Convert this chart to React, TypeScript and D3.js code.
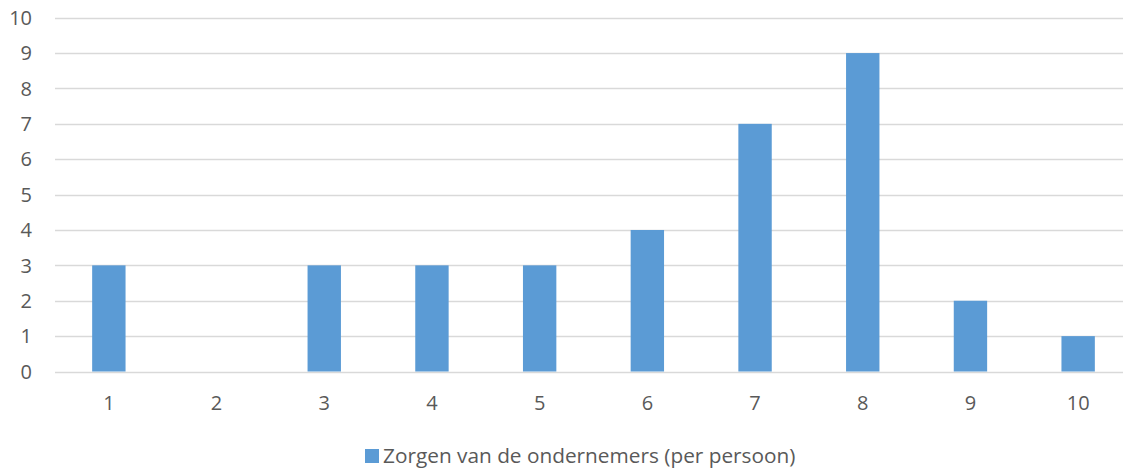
import { useEffect, useRef } from "react";
import * as d3 from "d3";

const categories = ["1", "2", "3", "4", "5", "6", "7", "8", "9", "10"];
const values = [3, 0, 3, 3, 3, 4, 7, 9, 2, 1];
const yTicks = [0, 1, 2, 3, 4, 5, 6, 7, 8, 9, 10];
const seriesName = "Zorgen van de ondernemers (per persoon)";

const W = 1123;
const H = 469;
const FONT = "'Open Sans', sans-serif";

export default function App() {
  const svgRef = useRef<SVGSVGElement>(null);

  useEffect(() => {
    if (!svgRef.current) return;
    const svg = d3.select(svgRef.current);
    svg.selectAll("*").remove();

    const x = d3.scaleBand().domain(categories).range([55, 1132]).paddingInner(0.69).paddingOuter(0.345);
    const y = d3.scaleLinear().domain([0, 10]).range([371.5, 17.7]);

    // gridlines
    svg.append("g")
      .selectAll("line")
      .data(yTicks)
      .join("line")
      .attr("x1", 55).attr("x2", W)
      .attr("y1", d => Math.round(y(d)) + 0.5).attr("y2", d => Math.round(y(d)) + 0.5)
      .attr("stroke", "#d9d9d9")
      .attr("stroke-width", 1.5);

    // bars
    svg.append("g")
      .selectAll("rect")
      .data(values)
      .join("rect")
      .attr("x", (_, i) => x(categories[i])!)
      .attr("width", x.bandwidth())
      .attr("y", d => y(d))
      .attr("height", d => y(0) - y(d))
      .attr("fill", "#5b9bd5");

    // y labels
    svg.append("g")
      .selectAll("text")
      .data(yTicks)
      .join("text")
      .attr("x", 32)
      .attr("y", d => y(d))
      .attr("dy", "0.36em")
      .attr("text-anchor", "end")
      .attr("font-family", FONT)
      .attr("font-size", 20)
      .attr("fill", "#595959")
      .text(d => d);

    // x labels
    svg.append("g")
      .selectAll("text")
      .data(categories)
      .join("text")
      .attr("x", d => x(d)! + x.bandwidth() / 2)
      .attr("y", 403)
      .attr("dy", "0.36em")
      .attr("text-anchor", "middle")
      .attr("font-family", FONT)
      .attr("font-size", 20)
      .attr("fill", "#595959")
      .text(d => d);

    // legend
    const lg = svg.append("g");
    lg.append("rect")
      .attr("x", 365).attr("y", 449)
      .attr("width", 14).attr("height", 14)
      .attr("fill", "#5b9bd5");
    lg.append("text")
      .attr("x", 383)
      .attr("y", 456)
      .attr("dy", "0.36em")
      .attr("font-family", FONT)
      .attr("font-size", 20.8)
      .attr("fill", "#595959")
      .text(seriesName);
  }, []);

  return (
    <svg
      ref={svgRef}
      width={W}
      height={H}
      style={{ position: "absolute", left: 0, top: 0, background: "#fff" }}
    />
  );
}
